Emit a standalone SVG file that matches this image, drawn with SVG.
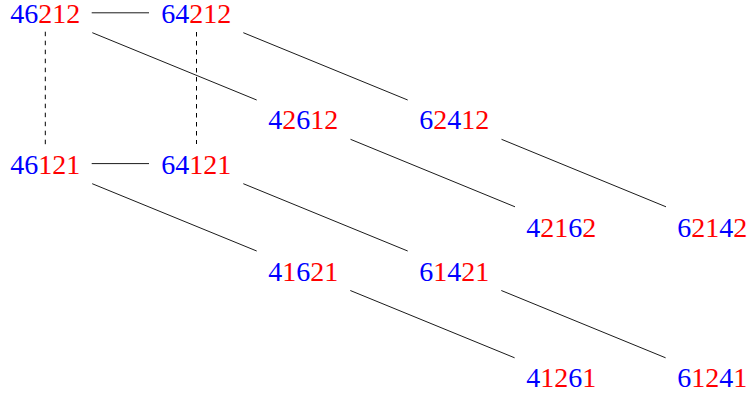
<svg xmlns="http://www.w3.org/2000/svg" width="749" height="396" viewBox="0 0 749 396">
<style>
.t{font-family:'Liberation Serif','Times New Roman',serif;font-size:28px;text-anchor:middle}
.b{fill:#0000ff}.r{fill:#ff0000}
.e{stroke:#000;stroke-width:0.9;fill:none}
.d{stroke-width:1;stroke-dasharray:4.5 4.5}
</style>
<rect width="749" height="396" fill="#fff"/>
<g id="connectors">
<line class="e" x1="91.7" y1="12.8" x2="149" y2="12.8"/>
<line class="e" x1="91.7" y1="163.6" x2="149" y2="163.6"/>
<line class="e d" x1="45.3" y1="31.7" x2="45.3" y2="145"/>
<line class="e d" x1="196.5" y1="32" x2="196.5" y2="144"/>
<line class="e" x1="92.3" y1="32.7" x2="256.7" y2="100"/>
<line class="e" x1="243.3" y1="32.7" x2="407.7" y2="100"/>
<line class="e" x1="350.5" y1="139.3" x2="515" y2="206.8"/>
<line class="e" x1="501.5" y1="139.3" x2="666" y2="206.8"/>
<line class="e" x1="92.2" y1="183.7" x2="256.7" y2="251"/>
<line class="e" x1="243.3" y1="183.7" x2="407.7" y2="251"/>
<line class="e" x1="350.3" y1="290.5" x2="514.6" y2="357.8"/>
<line class="e" x1="501.3" y1="290.5" x2="665.6" y2="357.8"/>
</g>
<g id="n46212"><text class="t" x="45.2" y="22.6"><tspan class="b">46</tspan><tspan class="r">212</tspan></text></g>
<g id="n64212"><text class="t" x="196.2" y="22.6"><tspan class="b">64</tspan><tspan class="r">212</tspan></text></g>
<g id="n42612"><text class="t" x="303.3" y="129.4"><tspan class="b">4</tspan><tspan class="r">2</tspan><tspan class="b">6</tspan><tspan class="r">12</tspan></text></g>
<g id="n62412"><text class="t" x="454.2" y="129.4"><tspan class="b">6</tspan><tspan class="r">2</tspan><tspan class="b">4</tspan><tspan class="r">12</tspan></text></g>
<g id="n46121"><text class="t" x="45.2" y="173.6"><tspan class="b">46</tspan><tspan class="r">121</tspan></text></g>
<g id="n64121"><text class="t" x="196.2" y="173.6"><tspan class="b">64</tspan><tspan class="r">121</tspan></text></g>
<g id="n42162"><text class="t" x="561.3" y="236.6"><tspan class="b">4</tspan><tspan class="r">21</tspan><tspan class="b">6</tspan><tspan class="r">2</tspan></text></g>
<g id="n62142"><text class="t" x="712.2" y="236.6"><tspan class="b">6</tspan><tspan class="r">21</tspan><tspan class="b">4</tspan><tspan class="r">2</tspan></text></g>
<g id="n41621"><text class="t" x="303.3" y="280.6"><tspan class="b">4</tspan><tspan class="r">1</tspan><tspan class="b">6</tspan><tspan class="r">21</tspan></text></g>
<g id="n61421"><text class="t" x="454.2" y="280.6"><tspan class="b">6</tspan><tspan class="r">1</tspan><tspan class="b">4</tspan><tspan class="r">21</tspan></text></g>
<g id="n41261"><text class="t" x="561.3" y="386.6"><tspan class="b">4</tspan><tspan class="r">12</tspan><tspan class="b">6</tspan><tspan class="r">1</tspan></text></g>
<g id="n61241"><text class="t" x="712.2" y="386.6"><tspan class="b">6</tspan><tspan class="r">12</tspan><tspan class="b">4</tspan><tspan class="r">1</tspan></text></g>
</svg>
